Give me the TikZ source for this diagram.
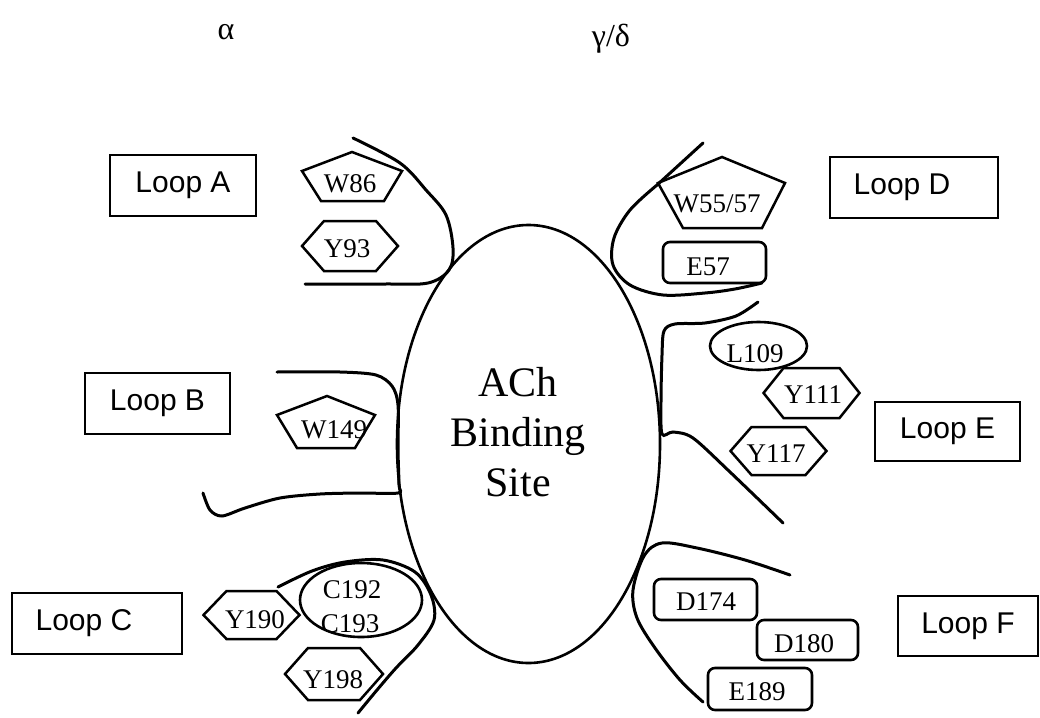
\documentclass[tikz,border=0pt]{standalone}
\usepackage{fontspec}
\setmainfont{Liberation Serif}
\newfontfamily\arialf{Liberation Sans}
\usetikzlibrary{shapes.geometric}
\tikzset{
  loopbox/.style={draw, line width=2.4pt, inner sep=0pt, minimum height=61pt,
    font=\arialf\fontsize{30}{35}\selectfont},
  shp/.style={draw, line width=2.5pt, line join=miter},
  res/.style={anchor=base, inner sep=0pt, font=\fontsize{27}{30}\selectfont},
  rbox/.style={draw, line width=2.6pt, rounded corners=7pt, inner sep=0pt,
    minimum width=103pt, minimum height=41pt},
  oval/.style={draw, ellipse, line width=2.6pt, inner sep=0pt},
  loopline/.style={line width=3pt, line cap=round},
  greek/.style={anchor=base, inner sep=0pt, font=\fontsize{32}{35}\selectfont}
}
\begin{document}
\begin{tikzpicture}[x=1pt,y=-1pt]
\useasboundingbox (0,0) rectangle (1040,717);

% headings
\node[greek] (alpha) at (226,40) {α};
\node[greek] (gd) at (611,47) {γ/δ};

% central binding site
\node[oval, minimum width=263pt, minimum height=438pt] (site) at (528.5,444) {};
\node[align=center, inner sep=0pt, font=\fontsize{42}{50}\selectfont] (sitetext) at (518,432) {ACh\\Binding\\Site};

% loop boxes
\node[loopbox, minimum width=146pt] (loopA) at (183,185.5) {Loop A};
\node[loopbox, minimum width=145pt] (loopB) at (157.5,403.5) {Loop B};
\node[loopbox, minimum width=170pt] (loopC) at (97,623.5) {Loop C\hspace*{26pt}};
\node[loopbox, minimum width=168pt] (loopD) at (914,187.5) {Loop D\hspace*{24pt}};
\node[loopbox, minimum width=145pt, minimum height=59pt] (loopE) at (947.5,431.5) {Loop E};
\node[loopbox, minimum width=140pt, minimum height=60pt] (loopF) at (968,626) {Loop F};

% loop A residues
\draw[shp] (352,152) -- (402,171) -- (384,201) -- (321,201) -- (302,171) -- cycle;
\node[res] (w86) at (350,192) {W86};
\draw[shp, shift={(350,246)}] (-48,0) -- (-26,-25) -- (26,-25) -- (48,0) -- (26,25) -- (-26,25) -- cycle;
\node[res] (y93) at (347,257) {Y93};

% loop B residue
\draw[shp] (327,396) -- (375,415) -- (355,448) -- (297,448) -- (277,415) -- cycle;
\node[res] (w149) at (334,438) {W149};

% loop C residues
\draw[shp, shift={(251.5,615)}] (-48,0) -- (-25,-24) -- (25,-24) -- (48,0) -- (25,24) -- (-25,24) -- cycle;
\node[res] (y190) at (255,628) {Y190};
\node[oval, minimum width=122pt, minimum height=74pt] (cc) at (361,600) {};
\node[res] (c192) at (352,598) {C192};
\node[res] (c193) at (350,632) {C193};
\draw[shp, shift={(334,674)}] (-49,0) -- (-26,-26) -- (26,-26) -- (49,0) -- (26,26) -- (-26,26) -- cycle;
\node[res] (y198) at (333,688) {Y198};

% loop D residues
\draw[shp] (722,157) -- (785,183) -- (762,228) -- (683,228) -- (658,183) -- cycle;
\node[res] (w55) at (717,212) {W55/57};
\node[rbox] (e57) at (714.5,262.5) {};
\node[res] at (708,275) {E57};

% loop E residues
\node[oval, minimum width=97pt, minimum height=48pt] (l109) at (758.5,346) {};
\node[res] (l109t) at (755,362) {L109};
\draw[shp, shift={(811.5,393)}] (-48,0) -- (-28,-25) -- (28,-25) -- (48,0) -- (28,25) -- (-28,25) -- cycle;
\node[res] (y111) at (813,403) {Y111};
\draw[shp, shift={(778.5,451)}] (-48,0) -- (-27,-24) -- (27,-24) -- (48,0) -- (27,24) -- (-27,24) -- cycle;
\node[res] (y117) at (776,462) {Y117};

% loop F residues
\node[rbox] (d174) at (705.5,599.5) {};
\node[res] at (706,610) {D174};
\node[rbox, minimum width=101pt, minimum height=40pt] (d180) at (807.5,640) {};
\node[res] at (804,652) {D180};
\node[rbox, minimum width=104pt, minimum height=42pt] (e189) at (760,689) {};
\node[res] at (757,700) {E189};

% loop backbone curves
\draw[loopline] plot[smooth, tension=0.55] coordinates {(353,138) (400,163) (426,190) (446,215) (453,248) (449,270) (428,283) (385,284) (305,284)};
\draw[loopline] (703,143) -- (657,185) plot[smooth, tension=0.55] coordinates {(657,185) (630,210) (614,238) (613,265) (630,285) (663,295) (705,293) (735,289) (762,283)};
\draw[loopline] plot[smooth, tension=0.5] coordinates {(758,302) (736,316) (705,323) (675,324) (664,331) (662,355) (661,400) (662,434) (673,432) (693,438) (730,472) (783,523)};
\draw[loopline] plot[smooth, tension=0.5] coordinates {(277,372) (340,372) (376,375) (392,386) (398,405) (398,450) (399,485) (398,493) (360,493) (320,494) (280,498) (245,508) (222,516) (210,510) (203,493)};
\draw[loopline] plot[smooth, tension=0.55] coordinates {(278,587) (312,571) (345,562) (383,560) (415,572) (431,595) (434,620) (418,645) (396,668) (377,690) (358,713)};
\draw[loopline] plot[smooth, tension=0.55] coordinates {(790,575) (745,560) (697,548) (662,543) (644,556) (633,590) (637,618) (655,648) (680,680) (703,702)};
\end{tikzpicture}
\end{document}
